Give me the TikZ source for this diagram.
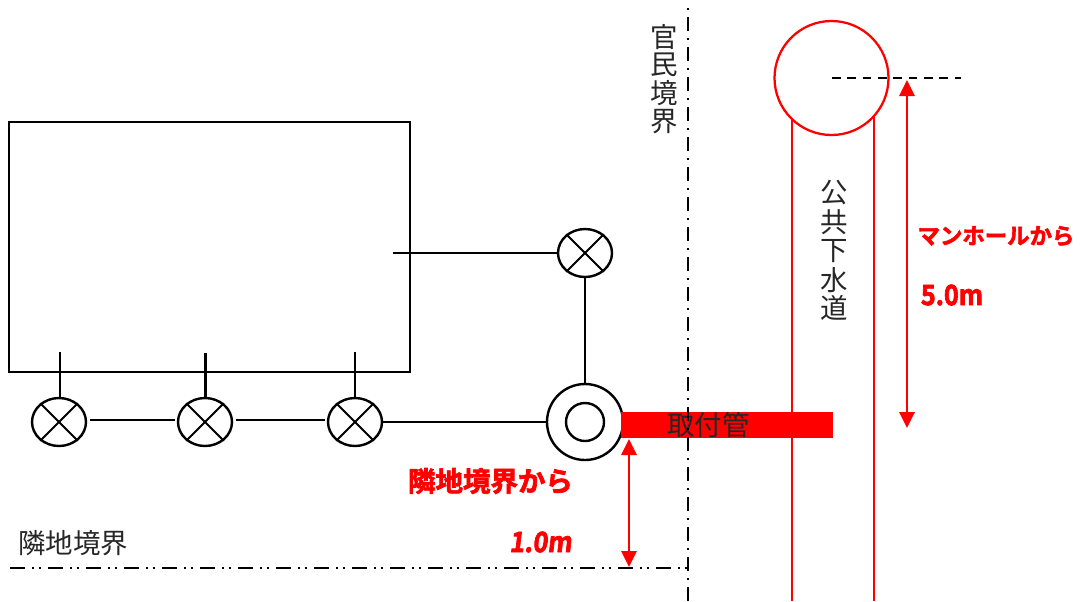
\documentclass[tikz,border=0pt]{standalone}
\usepackage{fontspec}
\usetikzlibrary{shapes.geometric,arrows.meta}
\setmainfont{Noto Sans CJK JP}
\newfontfamily\popfont[FakeBold=2.5]{Noto Sans CJK JP Bold}
\newfontfamily\popnum[FakeBold=2.5,FakeStretch=0.9]{Noto Sans CJK JP Bold}
\newfontfamily\popslant[FakeSlant=0.12,FakeBold=2.5,FakeStretch=0.9]{Noto Sans CJK JP Bold}
\definecolor{redline}{RGB}{255,0,0}
\tikzset{
  px/.style={x=0.75pt,y=-0.75pt},
  valve/.style={shape=ellipse,draw=black,line width=1.8pt,minimum width=40.5pt,minimum height=36pt,inner sep=0pt},
  ring/.style={shape=circle,draw=black,line width=1.8pt,inner sep=0pt},
  cross/.style={draw=black,line width=1.5pt},
  conn/.style={draw=black,line width=1.7pt},
  redl/.style={draw=redline,line width=1.7pt},
  dim/.style={draw=redline,line width=1.7pt,{Triangle[length=12pt,width=11.5pt,fill=redline]}-{Triangle[length=12pt,width=11.5pt,fill=redline]}},
  lab/.style={inner sep=0pt,text=black!85,font=\fontsize{20.6}{22}\selectfont},
  poplab/.style={inner sep=0pt,text=redline,anchor=center},
  bdline/.style={draw=black,line width=2pt}
}
\begin{document}
\begin{tikzpicture}[px]
\useasboundingbox (0,0) rectangle (1080,601);
% building
\node[draw=black,line width=1.8pt,minimum width=300.75pt,minimum height=187.5pt,inner sep=0pt,anchor=north west] (house) at (7.5,120.5) {};
% traps
\node[valve] (v1) at (59,422) {};
\node[valve] (v2) at (205,422) {};
\node[valve] (v3) at (355,422) {};
\node[valve] (v4) at (585,253) {};
\node[ring,minimum size=57pt] (mh) at (585,422) {};
\node[ring,minimum size=28.5pt] (mhi) at (585,422) {};
\foreach \v in {v1,v2,v3,v4}{
  \draw[cross] (\v.45) -- (\v.225);
  \draw[cross] (\v.135) -- (\v.315);
}
% stubs
\coordinate (s1) at (60,352);
\coordinate (s2) at (205.5,353);
\coordinate (s3) at (355,352);
\coordinate (s4) at (393,253);
\draw[conn] (s1) -- (s1 |- v1.north);
\draw[conn] (s2) -- (s2 |- v2.north);
\draw[conn] (s3) -- (s3 |- v3.north);
\draw[conn] (s4) -- (v4.west);
\draw[conn,shorten <=1.8pt,shorten >=1.5pt] (v1.east |- 0,420) -- (v2.west |- 0,420);
\draw[conn,shorten <=1.8pt,shorten >=1.5pt] (v2.east |- 0,420) -- (v3.west |- 0,420);
\draw[conn] (v3.east) -- (mh.west);
\draw[conn] (v4.south) -- (mh.north);
% red bar
\node[fill=redline,draw=none,minimum width=159pt,minimum height=19.5pt,inner sep=0pt,anchor=north west] (bar) at (621,412) {};
\node[lab] (barl) at (708.5,425) {取付管};
% boundary lines
\coordinate (bv1) at (688,8);
\coordinate (bv2) at (688,601);
\coordinate (bh1) at (10,568);
\coordinate (bh2) at (688,568);
\draw[bdline,dash pattern=on 1.5pt off 5.2pt on 10.6pt off 5.2pt] (bv1) -- (bv2);
\draw[bdline,dash pattern=on 11.5pt off 5pt on 1.5pt off 3.5pt on 1.5pt off 5.5pt] (bh1) -- (bh2);
% public sewer
\node[draw=redline,line width=1.7pt,shape=circle,minimum size=85.5pt,inner sep=0pt] (mp) at (831.5,78) {};
\coordinate (p1) at (792,601);
\coordinate (p2) at (874,601);
\draw[redl] (p1) -- (792,119);
\draw[redl] (p2) -- (874,117);
% centre level
\coordinate (d1) at (832,78);
\coordinate (d2) at (961,78);
\draw[draw=black,line width=1.7pt,dash pattern=on 6.5pt off 5pt] (d1) -- (d2);
% dimensions
\coordinate (a1) at (907,80);
\coordinate (a2) at (907,428);
\draw[dim] (a1) -- (a2);
\coordinate (b1) at (629,439);
\coordinate (b2) at (629,567);
\draw[dim] (b1) -- (b2);
% labels
\node[lab] (l1) at (664,37) {官};
\node[lab] (l2) at (664,65) {民};
\node[lab] (l3) at (664,93) {境};
\node[lab] (l4) at (664,122) {界};
\node[lab] (k1) at (834,193) {公};
\node[lab] (k2) at (834,222) {共};
\node[lab] (k3) at (834,251) {下};
\node[lab] (k4) at (834,280) {水};
\node[lab] (k5) at (834,308) {道};
\node[lab] (rin) at (73,543) {隣地境界};
\node[poplab,font=\fontsize{20.6}{22}\popfont] (t1) at (490.5,481) {隣地境界から};
\node[poplab,font=\fontsize{16.8}{18}\popfont] (t2) at (996,236) {マンホールから};
\node[poplab,font=\fontsize{21}{22}\popnum] (t3) at (952,295) {5.0m};
\node[poplab,font=\fontsize{21}{22}\popslant] (t4) at (540.5,542) {1.0m};
\end{tikzpicture}
\end{document}
